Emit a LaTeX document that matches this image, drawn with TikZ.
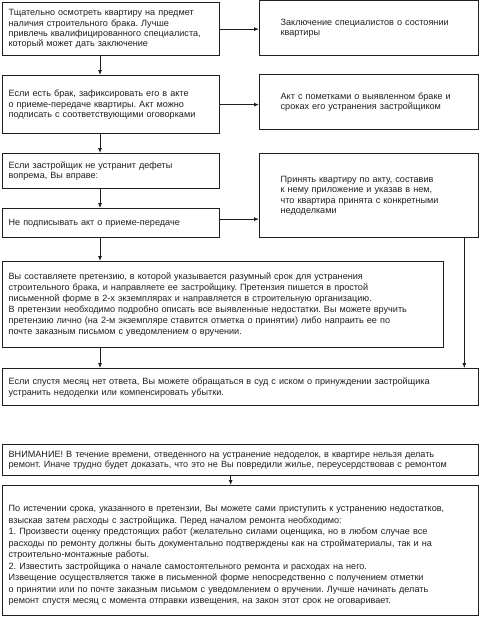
\documentclass[tikz,border=0pt]{standalone}
\usepackage{fontspec}
\setmainfont{Liberation Sans}
\frenchspacing
\usetikzlibrary{arrows.meta,calc}
\definecolor{ink}{gray}{0.12}
\tikzset{
  box/.style={draw=ink, line width=1.3pt, rectangle, anchor=north west, align=left,
    font=\fontsize{9.1}{10.3}\selectfont, text=ink, inner xsep=6pt, inner ysep=0pt},
  wbox/.style={box, font=\fontsize{9.1}{10.9}\selectfont},
  lbox/.style={box, font=\fontsize{9.1}{11.5}\selectfont},
  rbox/.style={box, inner xsep=21pt},
  arr/.style={draw=ink, line width=0.8pt, -{Latex[length=5pt,width=4pt]}}
}
\begin{document}
\begin{tikzpicture}[x=1pt,y=-1pt]
\useasboundingbox (0,0) rectangle (480,618);
\node[box, minimum width=217, minimum height=53, text width=205] (b1) at (2,2)
 {Тщательно осмотреть квартиру на предмет\\наличия строительного брака. Лучше\\привлечь квалифицированного специалиста,\\который может дать заключение};
\node[rbox, minimum width=219, minimum height=55, text width=177] (r1) at (259,0)
 {Заключение специалистов о состоянии\\квартиры};
\node[box, minimum width=217, minimum height=58, text width=205] (b2) at (2,75)
 {Если есть брак, зафиксировать его в акте\\о приеме-передаче квартиры. Акт можно\\подписать с соответствующими оговорками};
\node[rbox, minimum width=219, minimum height=55, text width=177] (r2) at (259,74)
 {Акт с пометками о выявленном браке и\\сроках его устранения застройщиком};
\node[box, minimum width=217, minimum height=35, text width=205] (b3) at (2,153)
 {Если застройщик не устранит дефеты\\вопрема, Вы вправе:};
\node[box, minimum width=217, minimum height=29, text width=205] (b4) at (2,208)
 {Не подписывать акт о приеме-передаче};
\node[rbox, minimum width=219, minimum height=84, text width=177] (r3) at (259,153)
 {Принять квартиру по акту, составив\\к нему приложение и указав в нем,\\что квартира принята с конкретными\\недоделками};
\node[wbox, minimum width=441, minimum height=86, text width=429] (b5) at (2,261)
 {Вы составляете претензию, в которой указывается разумный срок для устранения\\строительного брака, и направляете ее застройщику. Претензия пишется в простой\\письменной форме в 2-х экземплярах и направляется в строительную организацию.\\В претензии необходимо подробно описать все выявленные недостатки. Вы можете вручить\\претензию лично (на 2-м экземпляре ставится отметка о принятии) либо напраить ее по\\почте заказным письмом с уведомлением о вручении.};
\node[wbox, minimum width=476, minimum height=37, text width=464] (b6) at (2,368)
 {Если спустя месяц нет ответа, Вы можете обращаться в суд с иском о принуждении застройщика\\устранить недоделки или компенсировать убытки.};
\node[box, minimum width=476, minimum height=31, text width=464] (b7) at (2,444)
 {ВНИМАНИЕ! В течение времени, отведенного на устранение недоделок, в квартире нельзя делать\\ремонт. Иначе трудно будет доказать, что это не Вы повредили жилье, переусердствовав с ремонтом};
\node[lbox, minimum width=476, minimum height=130, text width=464] (b8) at (2,485)
 {\rule{0pt}{16pt}По истечении срока, указанного в претензии, Вы можете сами приступить к устранению недостатков,\\взыскав затем расходы с застройщика. Перед началом ремонта необходимо:\\1. Произвести оценку предстоящих работ (желательно силами оценщика, но в любом случае все\\расходы по ремонту должны быть документально подтверждены как на стройматериалы, так и на\\строительно-монтажные работы.\\2. Известить застройщика о начале самостоятельного ремонта и расходах на него.\\Извещение осуществляется также в письменной форме непосредственно с получением отметки\\о принятии или по почте заказным письмом с уведомлением о вручении. Лучше начинать делать\\ремонт спустя месяц с момента отправки извещения, на закон этот срок не оговаривает.};
% connectors
\draw[arr] (b1.east) -- (b1.east -| r1.west);
\draw[arr] (b2.east) -- (b2.east -| r2.west);
\draw[arr] ([yshift=4]b4.east) -- ([yshift=4]b4.east -| r3.west);
\draw[arr] ([xshift=98]b1.south west) -- ([xshift=98]b2.north west);
\draw[arr] ([xshift=98]b2.south west) -- ([xshift=98]b3.north west);
\draw[arr] ([xshift=98]b3.south west) -- ([xshift=98]b4.north west);
\draw[arr] ([xshift=98]b4.south west) -- ([xshift=98]b5.north west);
\draw[arr] ([xshift=98]b5.south west) -- ([xshift=98]b6.north west);
\draw[arr] ([xshift=-15]r3.south east) -- ([xshift=-15]r3.south east |- b6.north);
\draw[arr] ([xshift=-10]b7.south) -- ([xshift=-10]b8.north);
\end{tikzpicture}
\end{document}
